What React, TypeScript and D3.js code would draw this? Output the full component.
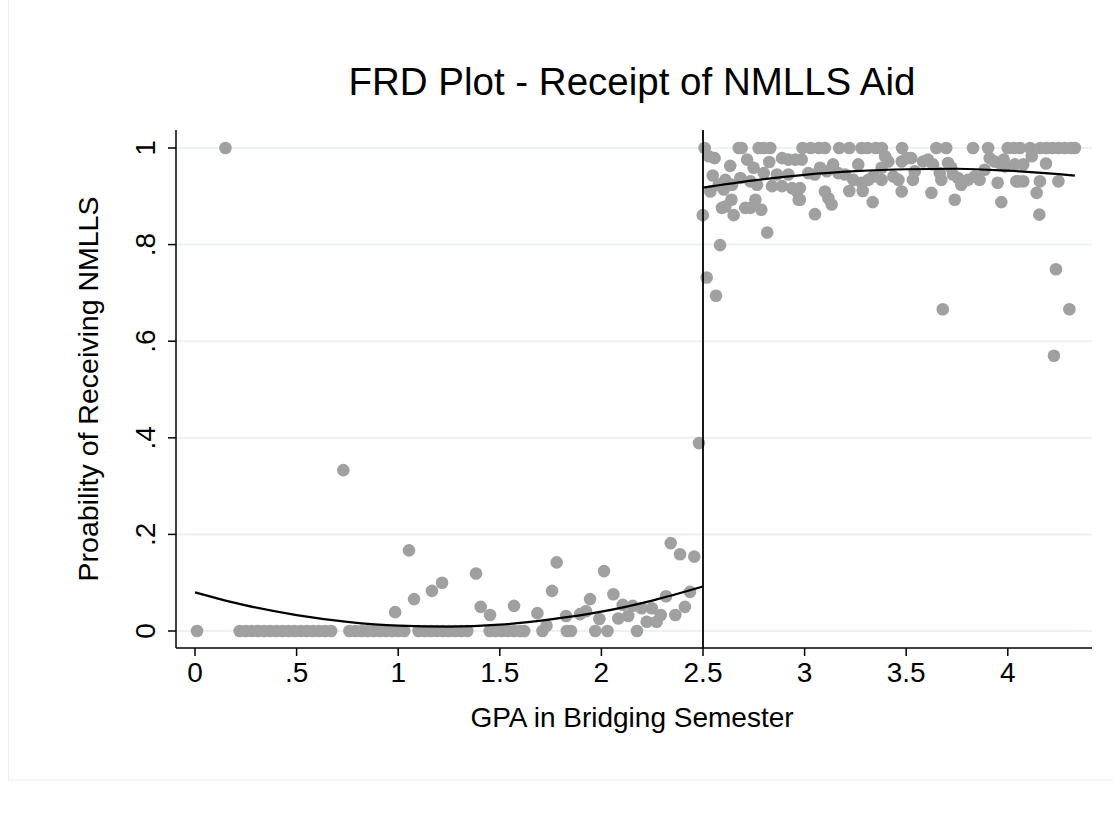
import React from "react";
import * as d3 from "d3";

// ---- data ----
const xTicks = [0, 0.5, 1, 1.5, 2, 2.5, 3, 3.5, 4];
const xTickLabels = ["0", ".5", "1", "1.5", "2", "2.5", "3", "3.5", "4"];
const yTicks = [0, 0.2, 0.4, 0.6, 0.8, 1];
const yTickLabels = ["0", ".2", ".4", ".6", ".8", "1"];
const cutoff = 2.5;

// bins below the cutoff with probability 0
const leftZeroGPA = [
  0.01, 0.22, 0.25, 0.28, 0.31, 0.34, 0.37, 0.4, 0.43, 0.46, 0.49, 0.52, 0.55, 0.58, 0.61, 0.64, 0.67,
  0.76, 0.79, 0.82, 0.85, 0.88, 0.91, 0.94, 0.97, 1.0, 1.03,
  1.1, 1.13, 1.16, 1.19, 1.22, 1.25, 1.28, 1.31, 1.34,
  1.45, 1.48, 1.51, 1.54, 1.57, 1.6, 1.62, 1.71, 1.83, 1.85, 1.97, 2.03, 2.175,
];
// other bins below the cutoff
const leftGPA = [
  0.15, 0.73, 0.985, 1.053, 1.078, 1.166, 1.216, 1.383, 1.406, 1.452, 1.57, 1.685, 1.73, 1.757, 1.78,
  1.826, 1.895, 1.924, 1.944, 1.99, 2.013, 2.059, 2.083, 2.105, 2.132, 2.154, 2.198, 2.223, 2.248,
  2.272, 2.292, 2.318, 2.341, 2.364, 2.387, 2.411, 2.436, 2.457, 2.48,
];
const leftProb = [
  1.0, 0.333, 0.039, 0.167, 0.066, 0.083, 0.1, 0.119, 0.05, 0.033, 0.052, 0.037, 0.011, 0.083, 0.142,
  0.031, 0.035, 0.041, 0.066, 0.025, 0.124, 0.076, 0.026, 0.054, 0.031, 0.052, 0.047, 0.019, 0.047,
  0.019, 0.033, 0.072, 0.182, 0.033, 0.159, 0.05, 0.081, 0.154, 0.389,
];
// bins above the cutoff with probability 1
const rightOneGPA = [
  2.508, 2.676, 2.69, 2.774, 2.799, 2.831, 2.99, 3.03, 3.07, 3.1, 3.17, 3.22, 3.28, 3.31, 3.35, 3.38,
  3.48, 3.648, 3.697, 3.829, 3.903, 4.0, 4.03, 4.06, 4.11, 4.16, 4.19, 4.22, 4.25, 4.28, 4.31, 4.33,
];
// other bins above the cutoff
const rightGPA = [
  2.528, 2.557, 2.634, 2.717, 2.749, 2.799, 2.826, 2.889, 2.92, 2.954,
  2.548, 2.536, 2.577, 2.61, 2.602, 2.643, 2.684, 2.733, 2.766, 2.84, 2.864, 2.889, 2.92, 2.938, 2.963,
  2.593, 2.61, 2.64, 2.651, 2.708, 2.733, 2.758, 2.787, 2.499, 2.816, 2.584, 2.971,
  2.518, 2.564, 3.68, 4.237, 4.303, 4.227,
  2.986, 3.018, 3.05, 3.076, 3.109, 3.14, 3.166, 3.199, 3.24, 3.264, 3.281, 3.314, 3.338, 3.379, 3.396,
  3.412, 3.379, 3.437, 3.462, 3.478, 3.502,
  2.977, 2.977, 3.1, 3.117, 3.133, 3.051, 3.22, 3.286, 3.335, 3.478,
  3.525, 3.583, 3.607, 3.632, 3.542, 3.533, 3.665, 3.673, 3.706, 3.722, 3.73, 3.755, 3.771, 3.804,
  3.837, 3.861, 3.886, 3.911, 3.935, 3.96, 3.985, 3.95, 4.042, 3.624, 3.739, 3.968,
  3.98, 4.035, 4.076, 4.118, 4.188, 4.052, 4.076, 4.158, 4.249, 4.142, 4.155,
];
const rightProb = [
  0.983, 0.979, 0.963, 0.976, 0.959, 0.948, 0.971, 0.979, 0.976, 0.976,
  0.943, 0.91, 0.924, 0.934, 0.914, 0.924, 0.938, 0.931, 0.924, 0.921, 0.945, 0.921, 0.945, 0.917, 0.91,
  0.876, 0.879, 0.893, 0.861, 0.876, 0.876, 0.893, 0.872, 0.861, 0.825, 0.799, 0.893,
  0.732, 0.694, 0.666, 0.749, 0.666, 0.57,
  0.976, 0.948, 0.945, 0.959, 0.952, 0.966, 0.948, 0.945, 0.934, 0.966, 0.928, 0.934, 0.941, 0.959, 0.983,
  0.972, 0.934, 0.941, 0.934, 0.972, 0.979,
  0.917, 0.893, 0.91, 0.896, 0.883, 0.863, 0.911, 0.911, 0.888, 0.91,
  0.979, 0.972, 0.976, 0.966, 0.952, 0.934, 0.948, 0.934, 0.969, 0.959, 0.945, 0.938, 0.924, 0.934,
  0.941, 0.934, 0.955, 0.979, 0.972, 0.969, 0.962, 0.928, 0.931, 0.907, 0.893, 0.888,
  0.976, 0.966, 0.966, 0.983, 0.968, 0.931, 0.931, 0.931, 0.931, 0.907, 0.862,
];
// fitted curves
const fitLeftGPA = [0, 0.25, 0.5, 0.75, 1.0, 1.25, 1.5, 1.75, 2.0, 2.25, 2.5];
const fitLeftProb = [0.08, 0.053, 0.033, 0.019, 0.011, 0.009, 0.013, 0.024, 0.04, 0.063, 0.092];
const fitRightGPA = [2.5, 2.75, 3.0, 3.25, 3.5, 3.75, 4.0, 4.25, 4.33];
const fitRightProb = [0.918, 0.933, 0.9445, 0.952, 0.956, 0.957, 0.953, 0.946, 0.943];

const W = 1113;
const H = 813;
const frame = { left: 176, right: 1092, top: 130, bottom: 648 };
const FONT = "Arial, 'Liberation Sans', Helvetica, sans-serif";

export default function App() {
  const x = d3.scaleLinear().domain([0, 4]).range([195, 1007.8]);
  const y = d3.scaleLinear().domain([0, 1]).range([631, 148]);

  const points: [number, number][] = [];
  leftZeroGPA.forEach((g) => points.push([g, 0]));
  leftGPA.forEach((g, i) => points.push([g, leftProb[i]]));
  rightOneGPA.forEach((g) => points.push([g, 1]));
  rightGPA.forEach((g, i) => points.push([g, rightProb[i]]));

  const line = d3
    .line<[number, number]>()
    .x((d) => x(d[0]))
    .y((d) => y(d[1]))
    .curve(d3.curveMonotoneX);
  const leftFit = line(fitLeftGPA.map((g, i) => [g, fitLeftProb[i]] as [number, number])) || "";
  const rightFit = line(fitRightGPA.map((g, i) => [g, fitRightProb[i]] as [number, number])) || "";

  return (
    <svg
      width={W}
      height={H}
      style={{ position: "absolute", left: 0, top: 0, background: "#ffffff" }}
      fontFamily={FONT}
    >
      <rect x={8.5} y={-2} width={W} height={782} fill="#ffffff" stroke="#eeeeee" strokeWidth={1} />
      {/* gridlines */}
      {yTicks.map((t) => (
        <line key={"g" + t} x1={frame.left} x2={frame.right} y1={y(t)} y2={y(t)} stroke="#eaf2f3" strokeWidth={2} />
      ))}
      {/* points */}
      {points.map((p, i) => (
        <circle key={i} cx={x(p[0])} cy={y(p[1])} r={6.3} fill="#a0a0a0" />
      ))}
      {/* fitted lines */}
      <path d={leftFit} fill="none" stroke="#000" strokeWidth={2.2} />
      <path d={rightFit} fill="none" stroke="#000" strokeWidth={2.2} />
      {/* cutoff */}
      <line x1={x(cutoff)} x2={x(cutoff)} y1={frame.top} y2={frame.bottom} stroke="#000" strokeWidth={1.8} />
      {/* axes */}
      <line x1={frame.left} x2={frame.left} y1={frame.top} y2={frame.bottom} stroke="#000" strokeWidth={1.5} />
      <line x1={frame.left} x2={frame.right} y1={frame.bottom} y2={frame.bottom} stroke="#000" strokeWidth={1.5} />
      {xTicks.map((t, i) => (
        <g key={"xt" + t}>
          <line x1={x(t)} x2={x(t)} y1={frame.bottom} y2={frame.bottom + 8} stroke="#000" strokeWidth={1.5} />
          <text x={x(t)} y={frame.bottom + 34} textAnchor="middle" fontSize={28} fill="#000">
            {xTickLabels[i]}
          </text>
        </g>
      ))}
      {yTicks.map((t, i) => (
        <g key={"yt" + t}>
          <line x1={frame.left - 8} x2={frame.left} y1={y(t)} y2={y(t)} stroke="#000" strokeWidth={1.5} />
          <text
            transform={`translate(${frame.left - 21},${y(t)}) rotate(-90)`}
            textAnchor="middle"
            fontSize={28}
            fill="#000"
          >
            {yTickLabels[i]}
          </text>
        </g>
      ))}
      <text x={632} y={727} textAnchor="middle" fontSize={28} fill="#000">
        GPA in Bridging Semester
      </text>
      <text transform={`translate(98,389) rotate(-90)`} textAnchor="middle" fontSize={28.5} fill="#000">
        Proability of Receiving NMLLS
      </text>
      <text x={632} y={95} textAnchor="middle" fontSize={38.5} fill="#000">
        FRD Plot - Receipt of NMLLS Aid
      </text>
    </svg>
  );
}
